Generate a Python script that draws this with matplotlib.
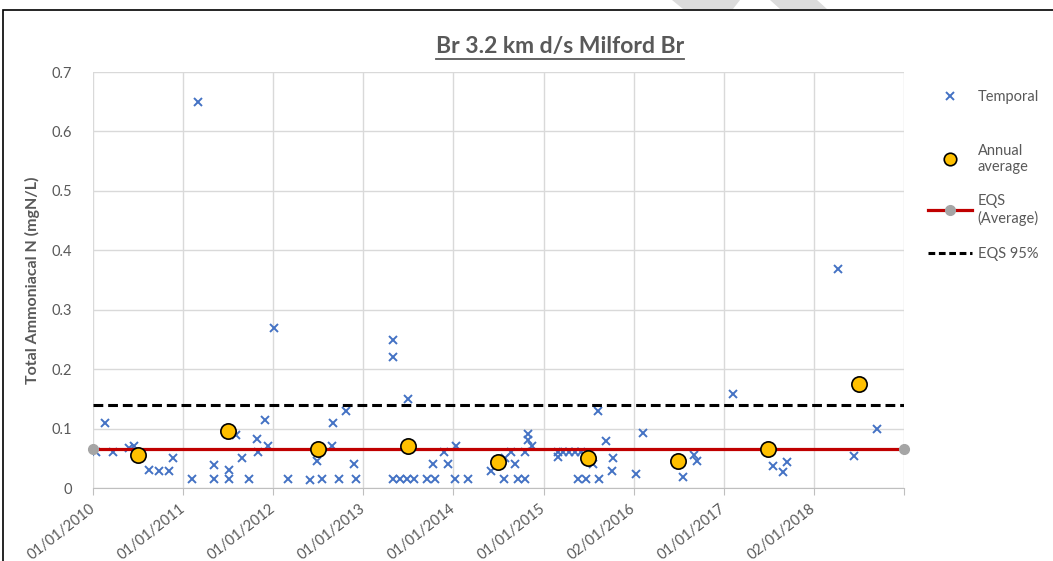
import matplotlib.pyplot as plt
import matplotlib.dates as mdates
from matplotlib.lines import Line2D
from matplotlib.patches import Rectangle, Polygon
import numpy as np

plt.rcParams['font.family'] = ['Lato', 'DejaVu Sans']

# temporal samples (date, mgN/L)
temporal_dates = [
    '2010-01-15', '2010-02-20', '2010-03-25', '2010-05-28', '2010-06-17', '2010-08-18',
    '2010-09-27', '2010-11-06', '2010-11-20', '2011-02-06', '2011-03-04', '2011-05-05',
    '2011-05-05', '2011-07-06', '2011-07-06', '2011-08-03', '2011-08-29', '2011-09-27',
    '2011-10-26', '2011-11-02', '2011-11-28', '2011-12-12', '2012-01-05', '2012-03-03',
    '2012-05-30', '2012-06-27', '2012-07-19', '2012-08-28', '2012-08-29', '2012-09-24',
    '2012-10-22', '2012-11-25', '2012-12-01', '2013-05-01', '2013-05-02', '2013-05-01',
    '2013-05-29', '2013-06-27', '2013-07-24', '2013-07-01', '2013-09-14', '2013-10-18',
    '2013-10-11', '2013-11-23', '2013-12-08', '2014-01-07', '2014-01-11', '2014-03-01',
    '2014-06-03', '2014-07-25', '2014-07-28', '2014-08-24', '2014-09-09', '2014-09-20',
    '2014-10-17', '2014-10-17', '2014-10-30', '2014-10-31', '2014-11-16', '2015-03-01',
    '2015-03-01', '2015-03-21', '2015-04-15', '2015-05-08', '2015-05-31', '2015-05-21',
    '2015-06-22', '2015-07-19', '2015-08-08', '2015-08-13', '2015-09-10', '2015-10-10',
    '2015-10-07', '2016-01-09', '2016-02-09', '2016-07-20', '2016-09-03', '2016-09-15',
    '2017-02-09', '2017-07-20', '2017-08-30', '2017-09-15', '2018-04-08', '2018-06-12',
    '2018-09-15']
temporal_vals = [
    0.06, 0.11, 0.06, 0.068, 0.07, 0.031,
    0.029, 0.029, 0.05, 0.015, 0.65, 0.039,
    0.015, 0.03, 0.015, 0.089, 0.05, 0.015,
    0.082, 0.06, 0.114, 0.071, 0.27, 0.015,
    0.014, 0.045, 0.015, 0.07, 0.109, 0.015,
    0.13, 0.04, 0.015, 0.249, 0.22, 0.015,
    0.015, 0.015, 0.015, 0.15, 0.015, 0.015,
    0.04, 0.06, 0.04, 0.015, 0.07, 0.015,
    0.029, 0.015, 0.05, 0.06, 0.04, 0.015,
    0.015, 0.06, 0.091, 0.081, 0.07, 0.06,
    0.052, 0.06, 0.06, 0.06, 0.06, 0.015,
    0.015, 0.04, 0.13, 0.015, 0.079, 0.05,
    0.029, 0.0235, 0.092, 0.019, 0.0555, 0.046,
    0.159, 0.0375, 0.0264, 0.043, 0.368, 0.054,
    0.1]

annual_dates = ['2010-07-01', '2011-07-01', '2012-07-01', '2013-07-01', '2014-07-01',
                '2015-07-01', '2016-07-01', '2017-07-01', '2018-07-01']
annual_vals = [0.056, 0.096, 0.066, 0.070, 0.044, 0.051, 0.046, 0.066, 0.175]

eqs_avg = 0.065
eqs_95 = 0.14

tick_labels = ['01/01/2010', '01/01/2011', '01/01/2012', '01/01/2013', '01/01/2014',
               '01/01/2015', '02/01/2016', '01/01/2017', '02/01/2018']

grey_txt = '#595959'
grid_c = '#D9D9D9'

fig = plt.figure(figsize=(10.53, 5.61), dpi=100)
ax = fig.add_axes([93 / 1053, 1 - 488 / 561, (904 - 93) / 1053, (488 - 72) / 561])

t0 = mdates.datestr2num('2010-01-01')
t1 = t0 + 9 * 365.25
tx = mdates.datestr2num(temporal_dates)
ta = mdates.datestr2num(annual_dates)

ax.plot(tx, temporal_vals, 'x', color='#4472C4', ms=5.5, mew=1.4, zorder=3)
ax.plot([t0, t1], [eqs_avg, eqs_avg], '-', color='#C00000', lw=2.3,
        marker='o', ms=7, mfc='#A5A5A5', mec='#A5A5A5', zorder=4, clip_on=False)
ax.plot([t0, t1], [eqs_95, eqs_95], '--', color='black', lw=2.2, dashes=(3.2, 1.6), zorder=4)
ax.plot(ta, annual_vals, 'o', mfc='#FFC000', mec='black', ms=11, mew=1.2, zorder=5)

ax.set_xlim(t0, t1)
ax.set_ylim(0, 0.7)
ax.set_xticks([t0 + 365.25 * k for k in range(10)])
ax.set_xticklabels(tick_labels + [''], rotation=38, ha='right', va='center',
                   rotation_mode='anchor', color=grey_txt, fontsize=10.5)
ax.set_yticks(np.arange(0, 0.71, 0.1))
ax.set_yticklabels(['0'] + ['%.1f' % v for v in np.arange(0.1, 0.71, 0.1)],
                   color=grey_txt, fontsize=10.5)
ax.grid(True, color=grid_c, lw=1)
ax.set_axisbelow(True)
for s in ['top', 'right', 'left']:
    ax.spines[s].set_visible(False)
ax.spines['bottom'].set_color('#BFBFBF')
ax.tick_params(axis='x', direction='out', length=5, color='#BFBFBF', pad=9)
ax.tick_params(axis='y', length=0, pad=15)

ax.set_ylabel('Total Ammoniacal N (mgN/L)', fontsize=11.5, fontweight='bold', color=grey_txt,
               labelpad=8)

title = fig.text(560 / 1053, 1 - 47 / 561, 'Br 3.2 km d/s Milford Br', ha='center', va='center',
                 fontsize=16.5, fontweight='bold', color=grey_txt)
fig.canvas.draw()
bb = title.get_window_extent().transformed(fig.transFigure.inverted())
fig.add_artist(Line2D([bb.x0, bb.x1], [bb.y0 - 0.002, bb.y0 - 0.002], color=grey_txt, lw=1.3,
                      transform=fig.transFigure))

# legend, one entry each
entries = [
    (Line2D([], [], ls='none', marker='x', color='#4472C4', ms=5.5, mew=1.4), 'Temporal', 97),
    (Line2D([], [], ls='none', marker='o', mfc='#FFC000', mec='black', ms=9, mew=1.2),
     'Annual\naverage', 159),
    (Line2D([], [], color='#C00000', lw=2.3, marker='o', ms=7, mfc='#A5A5A5', mec='#A5A5A5'),
     'EQS\n(Average)', 210),
    (Line2D([], [], color='black', lw=2.2, ls='--', dashes=(2.2, 1.2)), 'EQS 95%', 254),
]
for h, lab, yp in entries:
    fig.legend([h], [lab], loc='center left', bbox_to_anchor=(928 / 1053, 1 - yp / 561),
               frameon=False, borderpad=0, borderaxespad=0, handlelength=3.0,
               handletextpad=0.4, fontsize=10.5, labelcolor=grey_txt, markerscale=1)

# chart border and faint watermark at top
fig.add_artist(Rectangle((3 / 1053, -0.1), 1.2, 1 - 10 / 561 + 0.1, fill=False,
                         edgecolor='black', lw=1.2, transform=fig.transFigure))
for pts in [[(672, 0), (740, 0), (733, 9), (683, 9)], [(770, 0), (817, 0), (827, 9), (780, 9)]]:
    fig.add_artist(Polygon([(x / 1053, 1 - y / 561) for x, y in pts], closed=True,
                           facecolor='#DCDCDC', edgecolor='none', transform=fig.transFigure))

fig.savefig('out.png', dpi=100)
